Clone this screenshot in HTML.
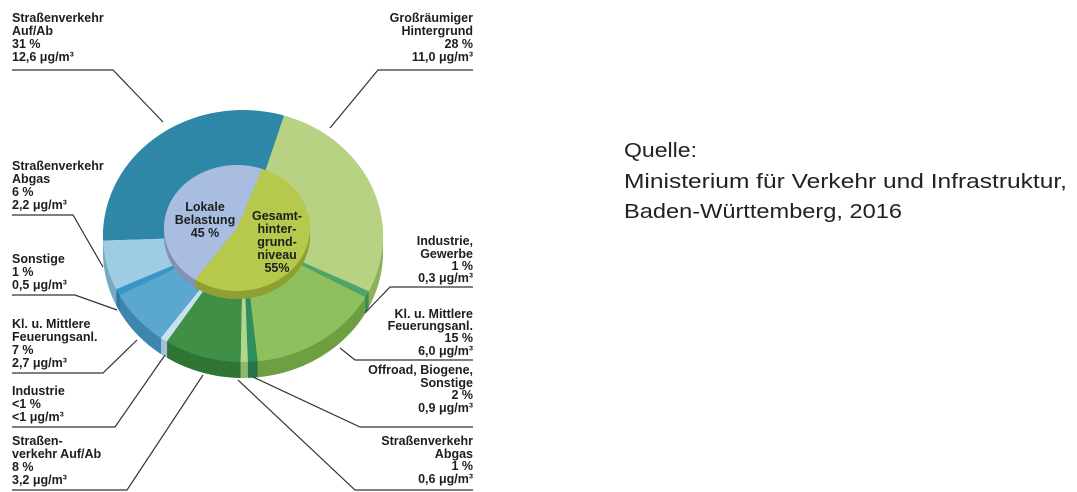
<!DOCTYPE html>
<html><head><meta charset="utf-8"><style>
html,body{margin:0;padding:0;background:#fff;}
svg{display:block}
.l{font-family:"Liberation Sans",sans-serif;font-weight:bold;font-size:12.5px;fill:#1e1e1e}
.q{font-family:"Liberation Sans",sans-serif;font-size:20px;fill:#222}
</style></head><body>
<svg id="s" width="1077" height="492" viewBox="0 0 1077 492" xmlns="http://www.w3.org/2000/svg">
<g id="pie"></g>
<g stroke="#333" stroke-width="1.2" fill="none">
<polyline points="12,70 113,70 163,122"/>
<polyline points="473,70 378,70 330,128"/>
<polyline points="12,215 73,215 103,267"/>
<polyline points="12,295 75,295 117,310"/>
<polyline points="12,373 103,373 137,340"/>
<polyline points="12,427 115,427 165,355"/>
<polyline points="12,490 127,490 203,375"/>
<polyline points="473,287 390,287 365,313"/>
<polyline points="473,360 355,360 340,348"/>
<polyline points="473,427 360,427 253,377"/>
<polyline points="473,490 355,490 238,380"/>
</g>
<g class="l">
<text x="12" y="22">Straßenverkehr</text><text x="12" y="35">Auf/Ab</text><text x="12" y="48">31 %</text><text x="12" y="61">12,6 μg/m³</text>
<g text-anchor="end"><text x="473" y="22">Großräumiger</text><text x="473" y="35">Hintergrund</text><text x="473" y="48">28 %</text><text x="473" y="61">11,0 μg/m³</text></g>
<text x="12" y="170">Straßenverkehr</text><text x="12" y="183">Abgas</text><text x="12" y="196">6 %</text><text x="12" y="209">2,2 μg/m³</text>
<text x="12" y="263">Sonstige</text><text x="12" y="276">1 %</text><text x="12" y="289">0,5 μg/m³</text>
<text x="12" y="328">Kl. u. Mittlere</text><text x="12" y="341">Feuerungsanl.</text><text x="12" y="354">7 %</text><text x="12" y="367">2,7 μg/m³</text>
<text x="12" y="395">Industrie</text><text x="12" y="408">&lt;1 %</text><text x="12" y="421">&lt;1 μg/m³</text>
<text x="12" y="445">Straßen-</text><text x="12" y="458">verkehr Auf/Ab</text><text x="12" y="471">8 %</text><text x="12" y="484">3,2 μg/m³</text>
<g text-anchor="end">
<text x="473" y="245">Industrie,</text><text x="473" y="258">Gewerbe</text><text x="473" y="270">1 %</text><text x="473" y="282">0,3 μg/m³</text>
<text x="473" y="318">Kl. u. Mittlere</text><text x="473" y="330">Feuerungsanl.</text><text x="473" y="342">15 %</text><text x="473" y="355">6,0 μg/m³</text>
<text x="473" y="374">Offroad, Biogene,</text><text x="473" y="387">Sonstige</text><text x="473" y="399">2 %</text><text x="473" y="412">0,9 μg/m³</text>
<text x="473" y="445">Straßenverkehr</text><text x="473" y="458">Abgas</text><text x="473" y="470">1 %</text><text x="473" y="483">0,6 μg/m³</text>
</g>
<g text-anchor="middle" font-size="12.5">
<text x="205" y="211">Lokale</text><text x="205" y="224">Belastung</text><text x="205" y="237">45 %</text>
<text x="277" y="220">Gesamt-</text><text x="277" y="233">hinter-</text><text x="277" y="246">grund-</text><text x="277" y="259">niveau</text><text x="277" y="272">55%</text>
</g>
</g>
<g class="q">
<text x="624" y="157" textLength="73" lengthAdjust="spacingAndGlyphs">Quelle:</text>
<text x="624" y="188" textLength="443" lengthAdjust="spacingAndGlyphs">Ministerium für Verkehr und Infrastruktur,</text>
<text x="624" y="218" textLength="278" lengthAdjust="spacingAndGlyphs">Baden-Württemberg, 2016</text>
</g>
</svg>
<script>
(function(){
var NS="http://www.w3.org/2000/svg",g=document.getElementById("pie");
function el(n,a){var e=document.createElementNS(NS,n);for(var k in a)e.setAttribute(k,a[k]);g.appendChild(e);return e;}
function sector(cx,cy,rx,ry,a1,a2){
 var d="M"+cx+","+cy,n=Math.max(2,Math.ceil((a2-a1)/2));
 for(var i=0;i<=n;i++){var t=(a1+(a2-a1)*i/n)*Math.PI/180;d+=" L"+(cx+rx*Math.sin(t)).toFixed(2)+","+(cy-ry*Math.cos(t)).toFixed(2);}
 return d+"Z";}
var sl=[[17,116,"#b7d283","#8fb05a"],[116,119,"#4da56c","#3a8a55"],[119,174,"#8fc05e","#6e9f42"],[174,178,"#2f8f5b","#247548"],[178,181,"#b3d68e","#8fb86a"],[181,213,"#3f9046","#2f7535"],[213,216,"#c9e1ef","#a3c3d6"],[216,242,"#5aa8d0","#3f86ad"],[242,245,"#3a95cc","#2b78a8"],[245,268,"#9ecce3","#78aac4"],[268,377,"#2f87a7","#236c88"]];
var cx=243,cy=236,rx=140,ry=126,D=16;
for(var d=D;d>0;d--)sl.forEach(function(s){el("path",{d:sector(cx,cy+d,rx,ry,s[0],s[1]),fill:s[3]});});
sl.forEach(function(s){el("path",{d:sector(cx,cy,rx,ry,s[0],s[1]),fill:s[2]});});
var icx=237,icy=228,irx=73,iry=63,ID=8;
for(var d=ID;d>0;d--){el("path",{d:sector(icx,icy+d,irx,iry,20,215),fill:"#8f9f33"});el("path",{d:sector(icx,icy+d,irx,iry,215,380),fill:"#8592b5"});}
el("path",{d:sector(icx,icy,irx,iry,20,215),fill:"#b6c94c"});
el("path",{d:sector(icx,icy,irx,iry,215,380),fill:"#a9bde1"});
})();
</script>
</body></html>
